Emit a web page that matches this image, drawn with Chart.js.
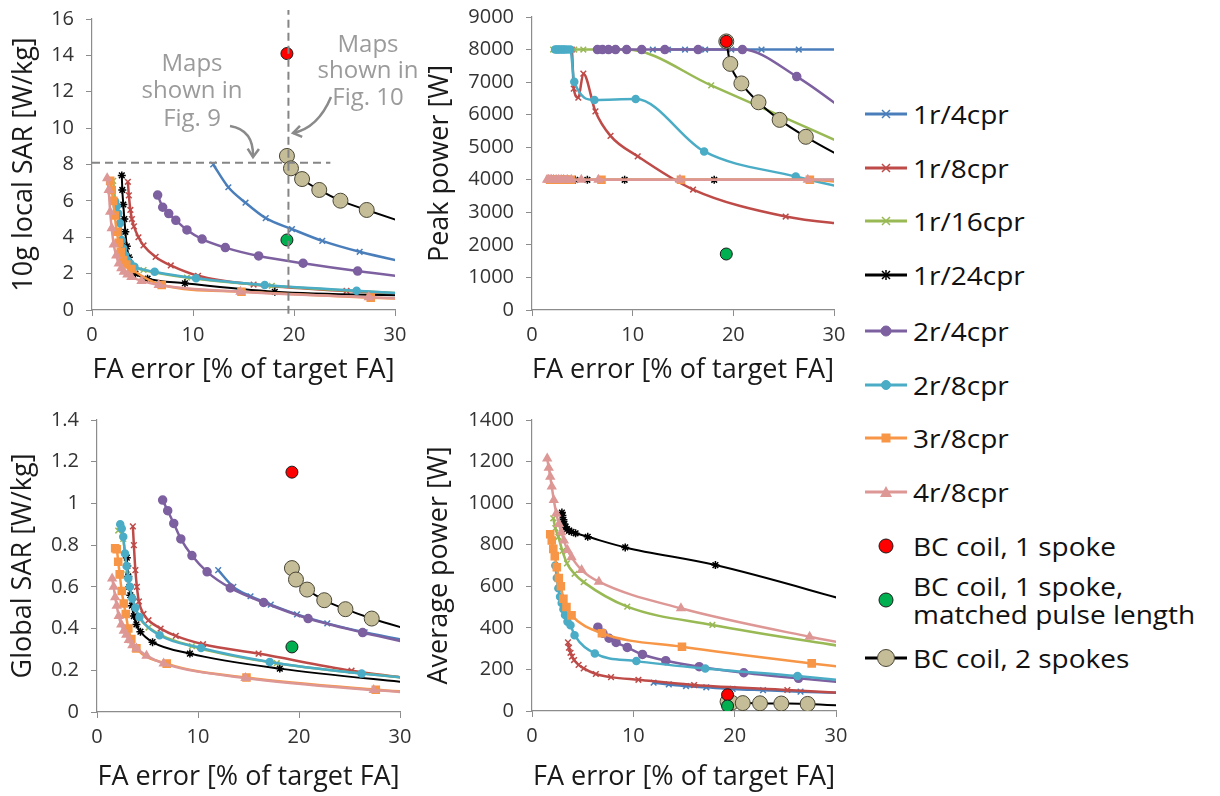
<!DOCTYPE html>
<html>
<head>
<meta charset="utf-8">
<script src="https://cdn.jsdelivr.net/npm/chart.js@4.4.1/dist/chart.umd.min.js"></script>
<style>
  body { margin: 0; background: #fff; width: 1220px; height: 796px; position: relative; overflow: hidden; font-family: "Open Sans", sans-serif; }
  canvas { position: absolute; }
  .leg { position: absolute; left: 858px; height: 60px; }
  .leg svg { position: absolute; left: 0; top: 0; }
  .leg span { position: absolute; left: 55px; font-size: 25px; color: #111; white-space: nowrap; line-height: 28px; transform: scaleX(1.12); transform-origin: left center; }
</style>
</head>
<body>
<canvas id="tl" width="430" height="390" style="left:0;top:0"></canvas>
<canvas id="tr" width="440" height="390" style="left:410px;top:0"></canvas>
<canvas id="bl" width="420" height="406" style="left:0;top:390px"></canvas>
<canvas id="br" width="440" height="406" style="left:410px;top:390px"></canvas>
<div id="legend"></div>
<script>
// ---- data (x = FA error in % of target FA) ----
// 1r/4cpr
const fa_1r4    = [12.0, 13.5, 15.2, 17.2, 19.8, 22.8, 26.5, 32];
const sar10_1r4 = [8.0, 6.75, 5.9, 5.05, 4.45, 3.8, 3.2, 2.5];
const peak_1r4  = [8000, 8000, 8000, 8000, 8000, 8000, 8000, 8000];
const gsar_1r4  = [0.68, 0.6, 0.555, 0.515, 0.468, 0.425, 0.382, 0.33];
const avg_1r4   = [136, 128, 120, 114, 106, 100, 93, 85];
// 1r/8cpr
const fa_1r8    = [3.55, 3.65, 3.8, 3.95, 4.15, 4.6, 5.1, 6.3, 7.8, 10.5, 16.0, 25.2, 32];
const sar10_1r8 = [7.05, 6.3, 5.5, 5.0, 4.6, 4.0, 3.55, 2.92, 2.45, 1.88, 1.4, 1.05, 0.86];
const peak_1r8  = [8000, 8000, 8000, 8000, 6800, 6520, 7260, 6100, 5350, 4720, 3700, 2870, 2600];
const gsar_1r8  = [0.89, 0.8, 0.68, 0.6, 0.53, 0.47, 0.44, 0.4, 0.365, 0.325, 0.28, 0.198, 0.155];
const avg_1r8   = [330, 305, 280, 262, 245, 222, 205, 178, 163, 150, 125, 101, 84];
// 1r/16cpr
const fa_1r16    = [2.1, 2.3, 2.6, 3.0, 3.45, 4.2, 5.1, 9.4, 17.8, 32];
const sar10_1r16 = [7.1, 6.0, 5.3, 3.6, 2.8, 2.36, 2.2, 1.78, 1.33, 0.87];
const peak_1r16  = [8000, 8000, 8000, 8000, 8000, 8000, 8000, 8000, 6900, 4960];
const gsar_1r16  = [0.87, 0.89, 0.83, 0.66, 0.55, 0.452, 0.405, 0.316, 0.234, 0.156];
const avg_1r16   = [927, 880, 838, 770, 710, 660, 620, 502, 414, 300];
// 1r/24cpr
const fa_1r24    = [2.95, 3.0, 3.1, 3.2, 3.3, 3.45, 3.65, 3.9, 4.3, 5.5, 9.2, 18.1, 32];
const sar10_1r24 = [7.4, 6.6, 5.8, 5.0, 4.3, 3.5, 2.9, 2.3, 2.0, 1.72, 1.47, 1.0, 0.78];
const peak_1r24  = [4000, 4000, 4000, 4000, 4000, 4000, 4000, 4000, 4000, 4000, 4000, 4000, 4000];
const gsar_1r24  = [0.74, 0.7, 0.65, 0.6, 0.56, 0.51, 0.46, 0.42, 0.385, 0.335, 0.28, 0.208, 0.135];
const avg_1r24   = [955, 940, 920, 900, 885, 875, 868, 862, 855, 838, 787, 702, 520];
// 2r/4cpr
const fa_2r4    = [6.5, 7.0, 7.6, 8.3, 9.4, 10.9, 13.2, 16.5, 20.9, 26.3, 32];
const sar10_2r4 = [6.32, 5.65, 5.3, 4.93, 4.4, 3.9, 3.43, 2.97, 2.57, 2.14, 1.75];
const peak_2r4  = [8000, 8000, 8000, 8000, 8000, 8000, 8000, 8000, 8000, 7170, 5920];
const gsar_2r4  = [1.016, 0.965, 0.904, 0.83, 0.75, 0.672, 0.595, 0.525, 0.448, 0.381, 0.32];
const avg_2r4   = [403, 374, 350, 330, 306, 272, 242, 213, 184, 157, 133];
// 2r/8cpr
const fa_2r8    = [2.3, 2.45, 2.6, 2.77, 2.93, 3.1, 3.26, 3.5, 3.8, 4.2, 6.2, 10.3, 17.1, 26.2, 32];
const sar10_2r8 = [5.95, 5.7, 5.3, 4.77, 3.85, 3.4, 3.02, 2.75, 2.55, 2.38, 2.1, 1.74, 1.37, 1.06, 0.88];
const peak_2r8  = [8000, 8000, 8000, 8000, 8000, 8000, 8000, 8000, 8000, 7010, 6450, 6480, 4870, 4100, 3680];
const gsar_2r8  = [0.9, 0.88, 0.84, 0.76, 0.7, 0.64, 0.6, 0.544, 0.5, 0.456, 0.368, 0.307, 0.24, 0.184, 0.158];
const avg_2r8   = [700, 640, 590, 550, 520, 490, 462, 430, 412, 365, 277, 240, 205, 168, 140];
// 3r/8cpr
const fa_3r8    = [1.8, 1.95, 2.1, 2.25, 2.45, 2.65, 2.85, 3.1, 3.4, 3.9, 6.9, 14.8, 27.6, 32];
const sar10_3r8 = [7.1, 6.6, 6.0, 5.2, 4.3, 3.7, 3.2, 2.75, 2.5, 2.25, 1.37, 1.0, 0.68, 0.6];
const peak_3r8  = [4000, 4000, 4000, 4000, 4000, 4000, 4000, 4000, 4000, 4000, 4000, 4000, 4000, 3880];
const gsar_3r8  = [0.785, 0.78, 0.72, 0.66, 0.58, 0.52, 0.47, 0.4, 0.35, 0.305, 0.232, 0.165, 0.107, 0.093];
const avg_3r8   = [850, 820, 780, 745, 692, 640, 600, 540, 500, 460, 374, 309, 229, 205];
// 4r/8cpr
const fa_4r8    = [1.5, 1.65, 1.8, 1.95, 2.15, 2.4, 2.65, 2.9, 3.15, 3.5, 3.9, 4.9, 6.6, 14.7, 27.4, 32];
const sar10_4r8 = [7.25, 6.6, 5.4, 4.5, 3.6, 3.0, 2.55, 2.3, 2.1, 1.95, 1.82, 1.6, 1.38, 1.0, 0.7, 0.6];
const peak_4r8  = [4000, 4000, 4000, 4000, 4000, 4000, 4000, 4000, 4000, 4000, 4000, 4000, 4000, 4000, 4000, 4000];
const gsar_4r8  = [0.64, 0.6, 0.55, 0.51, 0.46, 0.42, 0.39, 0.37, 0.345, 0.32, 0.305, 0.27, 0.232, 0.163, 0.105, 0.09];
const avg_4r8   = [1215, 1170, 1127, 1080, 1015, 950, 900, 860, 820, 775, 740, 678, 622, 494, 357, 315];
// BC coil, 1 spoke
const fa_bc1 = [19.3], sar10_bc1 = [14.1], peak_bc1 = [8250], gsar_bc1 = [1.15], avg_bc1 = [78];
// BC coil, 1 spoke, matched pulse length
const fa_bcm = [19.3], sar10_bcm = [3.85], peak_bcm = [1720], gsar_bcm = [0.312], avg_bcm = [24];
// BC coil, 2 spokes
const fa_bc2    = [19.3, 19.7, 20.8, 22.5, 24.6, 27.2, 32];
const sar10_bc2 = [8.47, 7.79, 7.2, 6.6, 6.01, 5.5, 4.6];
const peak_bc2  = [8250, 7560, 6960, 6380, 5840, 5320, 4500];
const gsar_bc2  = [0.69, 0.635, 0.587, 0.536, 0.493, 0.448, 0.38];
const avg_bc2   = [45, 40, 38, 37, 36, 34, 22];

// reference lines in the local SAR panel
const refLocalSar = 8.1;
const refFaError = 19.45;

// ---- series styles ----
const series = [
  { label: '1r/4cpr',  fa: fa_1r4,  ys: [sar10_1r4, peak_1r4, gsar_1r4, avg_1r4],     color: '#4A7EBB', pt: 'crossRot', r: 4, w: 2.5, order: 11 },
  { label: '1r/8cpr',  fa: fa_1r8,  ys: [sar10_1r8, peak_1r8, gsar_1r8, avg_1r8],     color: '#BE4B48', pt: 'crossRot', r: 4, w: 2.5, order: 10 },
  { label: '1r/16cpr', fa: fa_1r16, ys: [sar10_1r16, peak_1r16, gsar_1r16, avg_1r16], color: '#98B954', pt: 'crossRot', r: 4, w: 2.5, order: 9 },
  { label: '1r/24cpr', fa: fa_1r24, ys: [sar10_1r24, peak_1r24, gsar_1r24, avg_1r24], color: '#000000', pt: 'star',     r: 4, w: 2,   order: 8 },
  { label: '2r/4cpr',  fa: fa_2r4,  ys: [sar10_2r4, peak_2r4, gsar_2r4, avg_2r4],     color: '#7D60A0', pt: 'circle',   r: 4, w: 2.5, order: 7 },
  { label: '2r/8cpr',  fa: fa_2r8,  ys: [sar10_2r8, peak_2r8, gsar_2r8, avg_2r8],     color: '#4BACC6', pt: 'circle',   r: 3.5, w: 2.5, order: 6 },
  { label: '3r/8cpr',  fa: fa_3r8,  ys: [sar10_3r8, peak_3r8, gsar_3r8, avg_3r8],     color: '#F79646', pt: 'rect',     r: 5, w: 2.5, order: 5 },
  { label: '4r/8cpr',  fa: fa_4r8,  ys: [sar10_4r8, peak_4r8, gsar_4r8, avg_4r8],     color: '#DD9896', pt: 'triangle', r: 4.5, w: 2.5, order: 4 },
  { label: 'BC coil, 1 spoke', fa: fa_bc1, ys: [sar10_bc1, peak_bc1, gsar_bc1, avg_bc1], color: '#FF0000', pt: 'circle', r: 6, w: 0, order: 2, dot: true },
  { label: 'BC coil, 1 spoke, matched pulse length', fa: fa_bcm, ys: [sar10_bcm, peak_bcm, gsar_bcm, avg_bcm], color: '#00B050', pt: 'circle', r: 6, w: 0, order: 1, dot: true },
  { label: 'BC coil, 2 spokes', fa: fa_bc2, ys: [sar10_bc2, peak_bc2, gsar_bc2, avg_bc2], color: '#C4BD97', line: '#000000', pt: 'circle', r: 7.5, w: 2, order: 3, tan: true }
];

function buildSets(panel) {
  return series.map(s => ({
    label: s.label,
    data: s.fa.map((x, i) => ({ x: x, y: s.ys[panel][i] })),
    borderColor: s.line || s.color,
    backgroundColor: s.color,
    borderWidth: s.w,
    showLine: !s.dot,
    cubicInterpolationMode: 'monotone',
    pointStyle: s.pt,
    pointRadius: s.r,
    pointBackgroundColor: s.color,
    pointBorderColor: s.dot ? '#1a1a1a' : (s.tan ? '#4a4636' : s.color),
    pointBorderWidth: (s.dot || s.tan) ? 1 : 1.5,
    order: s.order
  }));
}

Chart.defaults.font.family = '"Open Sans", sans-serif';
Chart.defaults.color = '#262626';

const axisGrey = '#8c8c8c';
const fmt = v => String(Math.round(v * 100) / 100);

function makeChart(id, panel, yMax, yStep, yTitle, lay, extra) {
  return new Chart(document.getElementById(id), {
    type: 'line',
    data: { datasets: buildSets(panel) },
    options: {
      responsive: false,
      animation: false,
      devicePixelRatio: 1,
      layout: { padding: lay.pad },
      plugins: { legend: { display: false }, tooltip: { enabled: false } },
      scales: {
        x: {
          type: 'linear', min: 0, max: 30,
          ticks: { stepSize: 10, font: { size: 20 }, color: '#333', padding: 7, callback: fmt },
          grid: { drawOnChartArea: false, drawTicks: true, tickLength: 6, color: axisGrey },
          border: { color: axisGrey, width: 1.2 },
          title: { display: true, text: 'FA error [% of target FA]', font: { size: 27 }, color: '#1a1a1a', padding: { top: 0, bottom: lay.xtp } },
          afterFit: s => { s.height = lay.xh; s.paddingLeft = 0; s.paddingRight = 0; }
        },
        y: {
          min: 0, max: yMax,
          ticks: { stepSize: yStep, font: { size: 20 }, color: '#333', padding: 12, callback: fmt },
          grid: { drawOnChartArea: false, drawTicks: true, tickLength: 6, color: axisGrey },
          border: { color: axisGrey, width: 1.2 },
          title: { display: true, text: yTitle, font: { size: 27 }, color: '#1a1a1a', padding: { top: lay.ytp, bottom: 0 } },
          afterFit: s => { s.width = lay.yw; s.paddingTop = 0; s.paddingBottom = 0; }
        }
      }
    },
    plugins: extra ? [extra] : []
  });
}

function arrow(ctx, x0, y0, cx, cy, x1, y1) {
  ctx.beginPath();
  ctx.moveTo(x0, y0);
  ctx.quadraticCurveTo(cx, cy, x1, y1);
  ctx.stroke();
  const a = Math.atan2(y1 - cy, x1 - cx);
  ctx.beginPath();
  ctx.moveTo(x1 - 10 * Math.cos(a - 0.6), y1 - 10 * Math.sin(a - 0.6));
  ctx.lineTo(x1, y1);
  ctx.lineTo(x1 - 10 * Math.cos(a + 0.6), y1 - 10 * Math.sin(a + 0.6));
  ctx.stroke();
}

// dashed guide lines and notes of the local SAR panel
const mapsNote = {
  id: 'mapsNote',
  afterDatasetsDraw(chart) {
    const { ctx, scales: { x, y } } = chart;
    ctx.save();
    ctx.strokeStyle = '#858585';
    ctx.lineWidth = 2;
    ctx.setLineDash([8, 5]);
    ctx.beginPath();
    ctx.moveTo(x.getPixelForValue(0), y.getPixelForValue(refLocalSar));
    ctx.lineTo(x.getPixelForValue(23.6), y.getPixelForValue(refLocalSar));
    ctx.moveTo(x.getPixelForValue(refFaError), y.getPixelForValue(-0.2));
    ctx.lineTo(x.getPixelForValue(refFaError), y.getPixelForValue(16.5));
    ctx.stroke();
    ctx.setLineDash([]);
    ctx.fillStyle = '#9b9b9b';
    ctx.font = '24px "Open Sans", sans-serif';
    ctx.textAlign = 'center';
    ctx.textBaseline = 'middle';
    ['Maps', 'shown in', 'Fig. 9'].forEach((t, i) => ctx.fillText(t, 192, 64 + i * 27.5));
    ['Maps', 'shown in', 'Fig. 10'].forEach((t, i) => ctx.fillText(t, 368, 45 + i * 26.5));
    ctx.strokeStyle = '#8a8a8a';
    ctx.lineWidth = 2.5;
    arrow(ctx, 230, 126, 254, 130, 253, 157);
    arrow(ctx, 331, 97, 318, 128, 293, 133);
    ctx.restore();
  }
};

makeChart('tl', 0, 16, 2, '10g local SAR [W/kg]', { pad: { top: 19, right: 35, left: 0, bottom: 0 }, yw: 92, xh: 80, ytp: 8, xtp: 3 }, mapsNote);
makeChart('tr', 1, 9000, 1000, 'Peak power [W]', { pad: { top: 17, right: 16, left: 0, bottom: 0 }, yw: 122, xh: 80, ytp: 14, xtp: 3 });
makeChart('bl', 2, 1.4, 0.2, 'Global SAR [W/kg]', { pad: { top: 30, right: 20, left: 0, bottom: 0 }, yw: 97, xh: 84, ytp: 7, xtp: 2 });
makeChart('br', 3, 1400, 200, 'Average power [W]', { pad: { top: 30, right: 14, left: 0, bottom: 0 }, yw: 122, xh: 85, ytp: 13, xtp: 2 });

// ---- legend ----
const legendY = [114, 168, 221, 275, 331, 385, 438, 492, 546, 600, 658];
function markerSvg(s) {
  const cx = 28, cy = 30;
  const line = s.dot ? '' : `<line x1="7" y1="${cy}" x2="49" y2="${cy}" stroke="${s.line || s.color}" stroke-width="3"/>`;
  let m = '';
  const r = s.r + 1;
  if (s.pt === 'circle') {
    const stroke = s.dot ? '#1a1a1a' : (s.tan ? '#4a4636' : s.color);
    m = `<circle cx="${cx}" cy="${cy}" r="${r}" fill="${s.color}" stroke="${stroke}" stroke-width="1"/>`;
  } else if (s.pt === 'rect') {
    m = `<rect x="${cx - 4.5}" y="${cy - 4.5}" width="9" height="9" fill="${s.color}"/>`;
  } else if (s.pt === 'triangle') {
    m = `<polygon points="${cx},${cy - 6} ${cx + 6},${cy + 5} ${cx - 6},${cy + 5}" fill="${s.color}"/>`;
  } else {
    m = `<path d="M${cx - 4} ${cy - 4}L${cx + 4} ${cy + 4}M${cx - 4} ${cy + 4}L${cx + 4} ${cy - 4}" stroke="${s.color}" stroke-width="1.5"/>`;
    if (s.pt === 'star') m += `<path d="M${cx} ${cy - 5}L${cx} ${cy + 5}" stroke="${s.color}" stroke-width="1.5"/>`;
  }
  return `<svg width="56" height="60">${line}${m}</svg>`;
}
const legendBox = document.getElementById('legend');
series.forEach((s, i) => {
  const d = document.createElement('div');
  d.className = 'leg';
  d.style.top = (legendY[i] - 30) + 'px';
  const text = s.label === 'BC coil, 1 spoke, matched pulse length'
    ? 'BC coil, 1 spoke,<br>matched pulse length' : s.label;
  const lines = text.includes('<br>') ? 2 : 1;
  d.innerHTML = markerSvg(s) + `<span style="top:${30 - lines * 14}px">${text}</span>`;
  legendBox.appendChild(d);
});
</script>
</body>
</html>
